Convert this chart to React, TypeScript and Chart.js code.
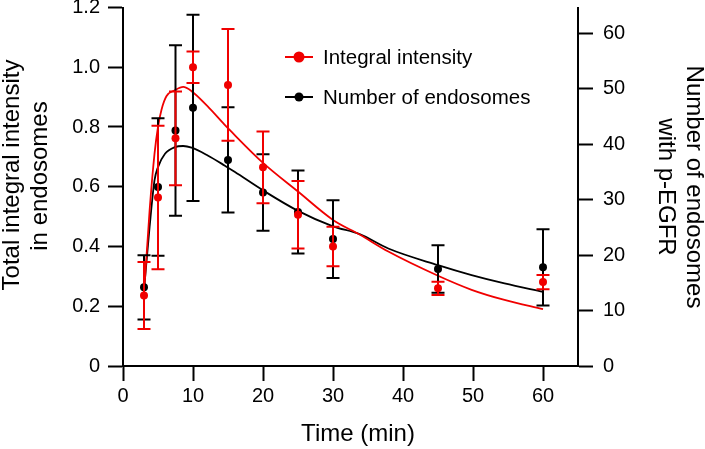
import React, { useEffect, useRef } from 'react';
import { Chart, registerables } from 'chart.js';

Chart.register(...registerables);

// ---- data ----
const times = [3, 5, 7.5, 10, 15, 20, 25, 30, 45, 60];
const intensityMean = [0.236, 0.564, 0.762, 1.0, 0.941, 0.665, 0.506, 0.4, 0.26, 0.281];
const intensityErr = [0.112, 0.24, 0.157, 0.053, 0.187, 0.12, 0.113, 0.066, 0.022, 0.024];
const endosomeMean = [14.2, 32.3, 42.5, 46.6, 37.2, 31.3, 27.8, 22.9, 17.5, 17.8];
const endosomeErr = [5.8, 12.4, 15.4, 16.8, 9.5, 6.9, 7.5, 7.0, 4.3, 6.9];

const intensityFitTime = [3, 3.8, 4.5, 5, 5.5, 6.2, 7.4, 8.6, 9.8, 12.1, 14.5, 15.2, 20, 25, 30, 33.8, 37.9, 45, 49.8, 54.5, 60];
const intensityFitValue = [0.24, 0.52, 0.71, 0.8, 0.858, 0.903, 0.923, 0.934, 0.92, 0.869, 0.808, 0.791, 0.68, 0.584, 0.489, 0.44, 0.383, 0.302, 0.255, 0.221, 0.19];
const endosomeFitTime = [3, 3.8, 4.5, 5, 6, 7.4, 8.6, 9.8, 12.1, 14.5, 16, 20, 25, 30, 33.8, 37.9, 45, 49.8, 54.5, 60];
const endosomeFitValue = [13.7, 25.1, 33.5, 35.9, 38.3, 39.5, 39.7, 39.4, 38.0, 36.2, 35.0, 31.7, 28.0, 25.2, 23.8, 21.2, 18.2, 16.4, 14.9, 13.4];

const originStubTime = [0, 1];
const originStubValue = [0, 0];

const timeTicks = [0, 10, 20, 30, 40, 50, 60];
const intensityTicks = [0, 0.2, 0.4, 0.6, 0.8, 1.0, 1.2];
const intensityTickLabels = ['0', '0.2', '0.4', '0.6', '0.8', '1.0', '1.2'];
const endosomeTicks = [0, 10, 20, 30, 40, 50, 60];

const seriesLabels = ['Integral intensity', 'Number of endosomes'];
const xTitle = 'Time (min)';
const leftTitle = ['Total integral intensity', 'in endosomes'];
const rightTitle = ['Number of endosomes', 'with p-EGFR'];

const RED = '#f00000';
const BLACK = '#000000';
const FONT = "'Liberation Sans', Arial, Helvetica, sans-serif";

const pts = (xs: number[], ys: number[]) => xs.map((x, i) => ({ x, y: ys[i] }));

const errorBarPlugin = {
  id: 'errorBars',
  beforeDatasetDraw(chart: any, args: any) {
    const ds: any = chart.data.datasets[args.index];
    if (!ds.errors) return;
    const ctx = chart.ctx;
    const xs = chart.scales.x;
    const ys = chart.scales[ds.yAxisID];
    ctx.save();
    ctx.strokeStyle = ds.backgroundColor;
    ctx.lineWidth = 2;
    ds.data.forEach((p: any, j: number) => {
      const e = ds.errors[j];
      const x = xs.getPixelForValue(p.x);
      const yT = ys.getPixelForValue(p.y + e);
      const yB = ys.getPixelForValue(p.y - e);
      ctx.beginPath();
      ctx.moveTo(x, yT);
      ctx.lineTo(x, yB);
      ctx.moveTo(x - 6.5, yT);
      ctx.lineTo(x + 6.5, yT);
      ctx.moveTo(x - 6.5, yB);
      ctx.lineTo(x + 6.5, yB);
      ctx.stroke();
    });
    ctx.restore();
  },
};

const annotationPlugin = {
  id: 'titlesLegend',
  afterDraw(chart: any) {
    const ctx = chart.ctx;
    ctx.save();
    ctx.fillStyle = '#000';
    ctx.textBaseline = 'middle';
    ctx.textAlign = 'center';
    ctx.font = `24px ${FONT}`;
    // x title
    ctx.fillText(xTitle, 358, 434);
    // left title
    ctx.save();
    ctx.translate(12.5, 175);
    ctx.rotate(-Math.PI / 2);
    ctx.fillText(leftTitle[0], 0, 0);
    ctx.restore();
    ctx.save();
    ctx.translate(40.5, 176);
    ctx.rotate(-Math.PI / 2);
    ctx.fillText(leftTitle[1], 0, 0);
    ctx.restore();
    // right title
    ctx.save();
    ctx.translate(694, 187);
    ctx.rotate(Math.PI / 2);
    ctx.fillText(rightTitle[0], 0, 0);
    ctx.restore();
    ctx.save();
    ctx.translate(666, 187);
    ctx.rotate(Math.PI / 2);
    ctx.fillText(rightTitle[1], 0, 0);
    ctx.restore();

    // legend
    const colors = [RED, BLACK];
    const radii = [5.5, 4.5];
    const rows = [57, 97];
    ctx.textAlign = 'left';
    ctx.font = `20.5px ${FONT}`;
    seriesLabels.forEach((lab, i) => {
      const y = rows[i];
      ctx.strokeStyle = colors[i];
      ctx.lineWidth = 2;
      ctx.beginPath();
      ctx.moveTo(285, y);
      ctx.lineTo(313, y);
      ctx.stroke();
      ctx.fillStyle = colors[i];
      ctx.beginPath();
      ctx.arc(299, y, radii[i], 0, Math.PI * 2);
      ctx.fill();
      ctx.fillStyle = '#000';
      ctx.fillText(lab, 323, y + 1);
    });
    ctx.restore();
  },
};

const axisCommon = (width: number | null, height: number | null) => ({
  border: { display: true, color: '#000', width: 2 },
  grid: {
    display: true,
    drawOnChartArea: false,
    drawTicks: true,
    tickLength: 15,
    tickWidth: 2,
    tickColor: '#000',
  },
  afterFit(scale: any) {
    if (width !== null) scale.width = width;
    if (height !== null) scale.height = height;
    scale.paddingTop = 0;
    scale.paddingBottom = 0;
    scale.paddingLeft = 0;
    scale.paddingRight = 0;
  },
});

export default function App() {
  const ref = useRef<HTMLCanvasElement | null>(null);

  useEffect(() => {
    if (!ref.current) return;
    const chart = new Chart(ref.current, {
      type: 'scatter',
      data: {
        datasets: [
          {
            type: 'line',
            label: seriesLabels[0],
            data: pts(times, intensityMean),
            errors: intensityErr,
            yAxisID: 'y',
            showLine: false,
            backgroundColor: RED,
            borderColor: RED,
            pointRadius: 4,
            pointBorderWidth: 0,
            order: 0,
            clip: false,
          } as any,
          {
            type: 'line',
            label: seriesLabels[1],
            data: pts(times, endosomeMean),
            errors: endosomeErr,
            yAxisID: 'y1',
            showLine: false,
            backgroundColor: BLACK,
            borderColor: BLACK,
            pointRadius: 4,
            pointBorderWidth: 0,
            order: 1,
            clip: false,
          } as any,
          {
            type: 'line',
            label: 'Integral intensity fit',
            data: pts(intensityFitTime, intensityFitValue),
            yAxisID: 'y',
            borderColor: RED,
            borderWidth: 1.8,
            pointRadius: 0,
            cubicInterpolationMode: 'monotone',
            fill: false,
            order: 2,
          } as any,
          {
            type: 'line',
            label: 'Number of endosomes fit',
            data: pts(endosomeFitTime, endosomeFitValue),
            yAxisID: 'y1',
            borderColor: BLACK,
            borderWidth: 1.8,
            pointRadius: 0,
            cubicInterpolationMode: 'monotone',
            fill: false,
            order: 3,
          } as any,
          {
            type: 'line',
            label: 'origin',
            data: pts(originStubTime, originStubValue),
            yAxisID: 'y',
            borderColor: BLACK,
            borderWidth: 2,
            pointRadius: 0,
            order: 4,
            clip: false,
          } as any,
        ],
      },
      options: {
        responsive: false,
        animation: false,
        layout: { padding: { top: 7.5, left: 0, right: 0, bottom: 0 } },
        plugins: {
          legend: { display: false },
          tooltip: { enabled: false },
          title: { display: false },
        },
        scales: {
          x: {
            type: 'linear',
            position: 'bottom',
            min: 0,
            max: 65,
            ...axisCommon(null, 83),
            afterBuildTicks(scale: any) {
              scale.ticks = timeTicks.map((v) => ({ value: v }));
            },
            ticks: {
              color: '#000',
              font: { family: FONT, size: 20 },
              padding: 3,
              maxRotation: 0,
              autoSkip: false,
              callback: (v: any) => String(v),
            },
          },
          y: {
            type: 'linear',
            position: 'left',
            min: 0,
            max: 1.2,
            ...axisCommon(123, null),
            afterBuildTicks(scale: any) {
              scale.ticks = intensityTicks.map((v) => ({ value: v }));
            },
            ticks: {
              color: '#000',
              font: { family: FONT, size: 20 },
              padding: 8,
              autoSkip: false,
              callback: (v: any) => {
                const i = intensityTicks.findIndex((t) => Math.abs(t - v) < 1e-9);
                return i >= 0 ? intensityTickLabels[i] : '';
              },
            },
          },
          y1: {
            type: 'linear',
            position: 'right',
            min: 0,
            max: 64.7,
            ...axisCommon(127, null),
            afterBuildTicks(scale: any) {
              scale.ticks = endosomeTicks.map((v) => ({ value: v }));
            },
            ticks: {
              color: '#000',
              font: { family: FONT, size: 20 },
              padding: 10,
              autoSkip: false,
              callback: (v: any) => String(v),
            },
          },
        },
      } as any,
      plugins: [errorBarPlugin, annotationPlugin],
    });
    return () => chart.destroy();
  }, []);

  return (
    <div style={{ position: 'absolute', left: 0, top: 0, width: 705, height: 449, background: '#fff' }}>
      <canvas ref={ref} width={705} height={449} />
    </div>
  );
}
